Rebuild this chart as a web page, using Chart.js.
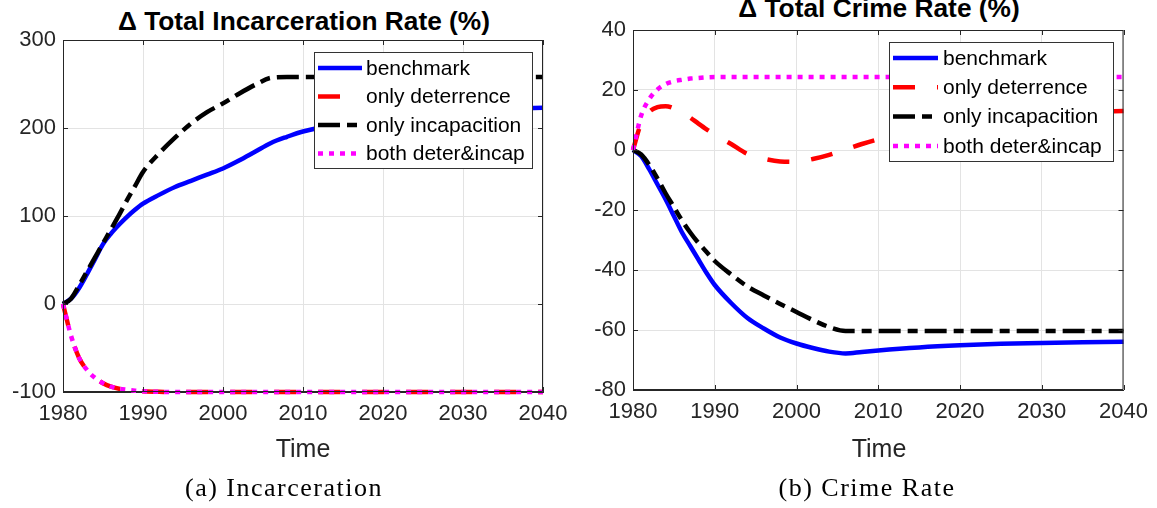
<!DOCTYPE html>
<html>
<head>
<meta charset="utf-8">
<script src="https://cdn.jsdelivr.net/npm/chart.js"></script>
<style>
  body { margin: 0; width: 1157px; height: 508px; background: #fff; position: relative; overflow: hidden;
         font-family: "Liberation Sans", Arial, sans-serif; color: #262626; }
  canvas { position: absolute; top: 0; }
  .lbl { position: absolute; white-space: nowrap; transform: translateX(-50%); line-height: 1; }
  .title { font-weight: bold; font-size: 26.3px; color: #000; }
  .xlab { font-size: 25px; }
  .cap { font-family: "Liberation Serif", "Times New Roman", serif; font-size: 26px; color: #000; letter-spacing: 1.5px; }
</style>
</head>
<body>
<div class="lbl title" style="left:304px; top:8px;">&Delta; Total Incarceration Rate (%)</div>
<div class="lbl title" style="left:879px; top:-5px;">&Delta; Total Crime Rate (%)</div>
<canvas id="incChart" width="580" height="440" style="left:0px"></canvas>
<canvas id="crimeChart" width="579" height="440" style="left:578px"></canvas>
<div class="lbl xlab" style="left:303px; top:436px;">Time</div>
<div class="lbl xlab" style="left:879px; top:436px;">Time</div>
<div class="lbl cap" style="left:284px; top:475px;">(a) Incarceration</div>
<div class="lbl cap" style="left:867px; top:475px;">(b) Crime Rate</div>

<script>
// years
const years = [1980, 1981, 1982, 1983, 1984, 1985, 1986, 1987, 1988, 1989, 1990, 1992, 1994, 1996,
  1998, 2000, 2002, 2004, 2006, 2008, 2010, 2015, 2020, 2025, 2030, 2035, 2040];
const xTicks = [1980, 1990, 2000, 2010, 2020, 2030, 2040];

const seriesNames = ["benchmark", "only deterrence", "only incapacition", "both deter&incap"];

// (a) change in total incarceration rate, %
const incBenchmark = [0, 6, 18, 34, 51, 68, 80, 90, 99, 107, 114, 124, 133, 140,
  147, 154, 163, 173, 183, 190, 196, 205, 212, 217, 220, 222, 223];
const incDeterrence = [0, -36, -61, -75, -84, -90, -94, -96.3, -97.5, -98.5, -99.2, -99.8, -100, -100,
  -100, -100, -100, -100, -100, -100, -100, -100, -100, -100, -100, -100, -100];
const incIncapacition = [0, 6, 21, 37, 53, 69, 85, 101, 118, 134, 150, 171, 189, 205,
  218, 228, 239, 249, 257, 258, 258, 258, 258, 258, 258, 258, 258];
const incBoth = [0, -36, -61, -75, -84, -90, -94, -96.3, -97.5, -98.5, -99.2, -99.8, -100, -100,
  -100, -100, -100, -100, -100, -100, -100, -100, -100, -100, -100, -100, -100];
const incYTicks = [-100, 0, 100, 200, 300];

// (b) change in total crime rate, %
const crimeBenchmark = [0, -2, -6.5, -11.5, -16.5, -22, -27.5, -32, -36.5, -41, -45, -51, -56, -59.5,
  -62.5, -64.5, -66, -67.2, -67.8, -67.3, -66.8, -65.8, -65.1, -64.6, -64.3, -64.1, -63.9];
const crimeDeterrence = [0, 9, 12.8, 14.3, 14.6, 13.9, 12.6, 10.8, 8.8, 6.9, 5.2, 2, -1.3, -2.9,
  -3.8, -3.9, -3, -1.6, 0.2, 2, 3.6, 7, 9.5, 11, 12, 12.5, 13];
const crimeIncapacition = [0, -1.5, -5, -9.5, -14.5, -19, -23.5, -27.5, -31, -34, -37, -41.5, -45.5, -48.5,
  -51.3, -54, -56.7, -59, -60.3, -60.3, -60.3, -60.3, -60.3, -60.3, -60.3, -60.3, -60.3];
const crimeBoth = [0, 11.5, 17, 20.2, 22, 22.9, 23.4, 23.8, 24, 24.2, 24.3, 24.3, 24.3, 24.3,
  24.3, 24.3, 24.3, 24.3, 24.3, 24.3, 24.3, 24.3, 24.3, 24.3, 24.3, 24.3, 24.3];
const crimeYTicks = [-80, -60, -40, -20, 0, 20, 40];

const lineStyles = [
  { color: "#0000ff", dash: [], width: 4.5, order: 4 },
  { color: "#ff0000", dash: [22, 22], width: 4.5, order: 3 },
  { color: "#000000", dash: [22, 7, 10, 7], width: 4.5, order: 2 },
  { color: "#ff00ff", dash: [5, 6], width: 4.5, order: 1 },
];

const axisColor = "#262626";
const tickFont = { family: "Liberation Sans", size: 22 };

// MATLAB style box with inward ticks on all four sides
const boxPlugin = {
  id: "box",
  afterDraw(chart) {
    const { ctx, chartArea: a, scales } = chart;
    ctx.save();
    ctx.strokeStyle = axisColor;
    ctx.lineWidth = 1;
    ctx.beginPath();
    ctx.rect(a.left + 0.5, a.top + 0.5, a.right - a.left - 1, a.bottom - a.top - 1);
    ctx.stroke();
    ctx.beginPath();
    scales.x.ticks.forEach(t => {
      const x = Math.round(scales.x.getPixelForValue(t.value)) + 0.5;
      ctx.moveTo(x, a.bottom); ctx.lineTo(x, a.bottom - 5);
      ctx.moveTo(x, a.top); ctx.lineTo(x, a.top + 5);
    });
    scales.y.ticks.forEach(t => {
      const y = Math.round(scales.y.getPixelForValue(t.value)) + 0.5;
      ctx.moveTo(a.left, y); ctx.lineTo(a.left + 5, y);
      ctx.moveTo(a.right, y); ctx.lineTo(a.right - 5, y);
    });
    ctx.stroke();
    ctx.restore();
  }
};

// legend drawn inside the axes, over the lines, like MATLAB's "northeast"
const boxLegend = {
  id: "boxLegend",
  afterDraw(chart, args, opts) {
    const { ctx } = chart;
    ctx.save();
    ctx.fillStyle = "#fff";
    ctx.fillRect(opts.x, opts.y, opts.w, opts.h);
    ctx.strokeStyle = "#333";
    ctx.lineWidth = 1;
    ctx.strokeRect(opts.x + 0.5, opts.y + 0.5, opts.w, opts.h);
    ctx.font = "21px 'Liberation Sans'";
    ctx.textBaseline = "middle";
    chart.data.datasets.forEach((ds, i) => {
      const cy = opts.y + opts.first + i * opts.step;
      ctx.beginPath();
      ctx.setLineDash(ds.borderDash);
      ctx.lineCap = "butt";
      ctx.lineWidth = ds.borderWidth;
      ctx.strokeStyle = ds.borderColor;
      ctx.moveTo(opts.x + 4, cy);
      ctx.lineTo(opts.x + 4 + opts.sample, cy);
      ctx.stroke();
      ctx.setLineDash([]);
      ctx.fillStyle = "#000";
      ctx.fillText(ds.label, opts.x + opts.textX, cy + 1);
    });
    ctx.restore();
  }
};

function makeChart(id, series, yTicks, yWidth, xHeight, pad, legend) {
  const datasets = series.map((vals, i) => ({
    label: seriesNames[i],
    data: years.map((yr, k) => ({ x: yr, y: vals[k] })),
    borderColor: lineStyles[i].color,
    borderDash: lineStyles[i].dash,
    borderWidth: lineStyles[i].width,
    borderCapStyle: "butt",
    order: lineStyles[i].order,
    pointRadius: 0,
    cubicInterpolationMode: "monotone",
    fill: false,
    clip: false,
  }));

  return new Chart(document.getElementById(id), {
    type: "line",
    data: { datasets: datasets },
    options: {
      responsive: false,
      animation: false,
      devicePixelRatio: 1,
      layout: { padding: pad },
      plugins: {
        legend: { display: false },
        tooltip: { enabled: false },
        boxLegend: legend,
      },
      scales: {
        x: {
          type: "linear",
          min: xTicks[0],
          max: xTicks[xTicks.length - 1],
          afterBuildTicks: s => { s.ticks = xTicks.map(v => ({ value: v })); },
          ticks: { callback: v => String(v), color: axisColor, font: tickFont, padding: 9, maxRotation: 0, autoSkip: false },
          grid: { color: "#e3e3e3", drawTicks: false },
          border: { color: axisColor },
          afterFit: s => { s.height = xHeight; },
        },
        y: {
          min: yTicks[0],
          max: yTicks[yTicks.length - 1],
          afterBuildTicks: s => { s.ticks = yTicks.map(v => ({ value: v })); },
          ticks: { callback: v => String(v), color: axisColor, font: tickFont, padding: 7, autoSkip: false },
          grid: { color: "#e3e3e3", drawTicks: false },
          border: { color: axisColor },
          afterFit: s => { s.width = yWidth; },
        },
      },
    },
    plugins: [boxPlugin, boxLegend],
  });
}

makeChart("incChart", [incBenchmark, incDeterrence, incIncapacition, incBoth], incYTicks,
  63, 48, { top: 40, right: 37, left: 0, bottom: 0 },
  { x: 314, y: 52, w: 218, h: 116, first: 16, step: 28.5, sample: 44, textX: 52 });

makeChart("crimeChart", [crimeBenchmark, crimeDeterrence, crimeIncapacition, crimeBoth], crimeYTicks,
  55, 50, { top: 30, right: 32, left: 0, bottom: 0 },
  { x: 311, y: 42, w: 224, h: 119, first: 16, step: 29.3, sample: 45, textX: 54 });
</script>
</body>
</html>
